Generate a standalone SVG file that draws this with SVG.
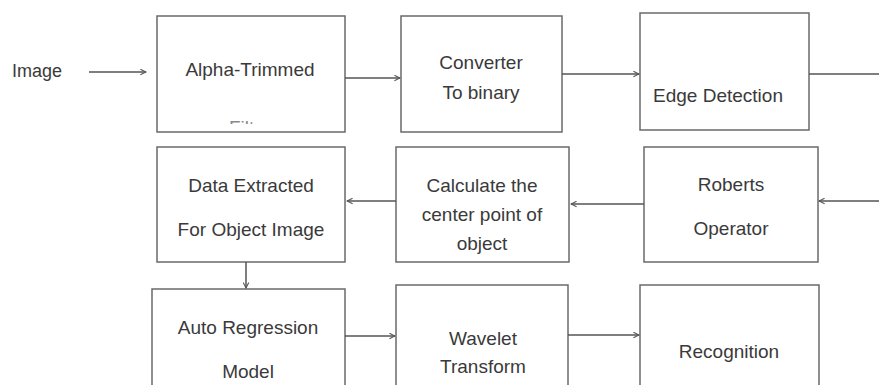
<svg xmlns="http://www.w3.org/2000/svg" width="879" height="385" viewBox="0 0 879 385">
<style>
.box{fill:#fff;stroke:#6a6a6a;stroke-width:1.5}
.t{font-family:"Liberation Sans",Arial,sans-serif;font-size:19px;fill:#3a3a3a;text-anchor:middle}
.c{fill:none;stroke:#555;stroke-width:1.5;marker-end:url(#ah)}
</style>
<defs>
<marker id="ah" viewBox="0 0 10 10" refX="9" refY="5" markerWidth="7" markerHeight="7" markerUnits="userSpaceOnUse" orient="auto">
<path d="M1,1 L9,5 L1,9" fill="none" stroke="#555" stroke-width="1.5"/>
</marker>
<clipPath id="clipF"><rect x="157" y="16" width="188" height="108"/></clipPath>
</defs>
<rect width="879" height="385" fill="#fff"/>
<text x="12" y="77" style="font-family:'Liberation Sans',Arial,sans-serif;font-size:18px;fill:#3a3a3a">Image</text>
<g id="n1"><rect class="box" x="157" y="16" width="188" height="116"/><text class="t" x="250" y="76">Alpha-Trimmed</text><text class="t" x="250" y="134" clip-path="url(#clipF)" style="fill:#888">Filter</text></g>
<g id="n2"><rect class="box" x="401" y="16" width="161" height="116"/><text class="t" x="481" y="69">Converter</text><text class="t" x="481" y="99">To binary</text></g>
<g id="n3"><rect class="box" x="640" y="13" width="169" height="117"/><text class="t" x="718" y="102">Edge Detection</text></g>
<g id="n4"><rect class="box" x="644" y="147" width="174" height="115"/><text class="t" x="731" y="191">Roberts</text><text class="t" x="731" y="235">Operator</text></g>
<g id="n5"><rect class="box" x="396" y="147" width="173" height="115"/><text class="t" x="482" y="192">Calculate the</text><text class="t" x="482" y="221">center point of</text><text class="t" x="482" y="250">object</text></g>
<g id="n6"><rect class="box" x="157" y="147" width="188" height="115"/><text class="t" x="251" y="192">Data Extracted</text><text class="t" x="251" y="236">For Object Image</text></g>
<g id="n7"><rect class="box" x="152" y="289" width="193" height="120"/><text class="t" x="248" y="334">Auto Regression</text><text class="t" x="248" y="378">Model</text></g>
<g id="n8"><rect class="box" x="396" y="285" width="172" height="124"/><text class="t" x="483" y="345">Wavelet</text><text class="t" x="483" y="373">Transform</text></g>
<g id="n9"><rect class="box" x="640" y="285" width="179" height="124"/><text class="t" x="729" y="358">Recognition</text></g>
<g id="connectors">
<path class="c" d="M89,72 H146"/>
<path class="c" d="M345,78 H400"/>
<path class="c" d="M562,74 H639"/>
<path class="c" d="M809,74 H884 V201 H819"/>
<path class="c" d="M644,204 H571"/>
<path class="c" d="M396,201 H347"/>
<path class="c" d="M246,262 V288"/>
<path class="c" d="M345,336 H395"/>
<path class="c" d="M568,335 H639"/>
</g>
</svg>
